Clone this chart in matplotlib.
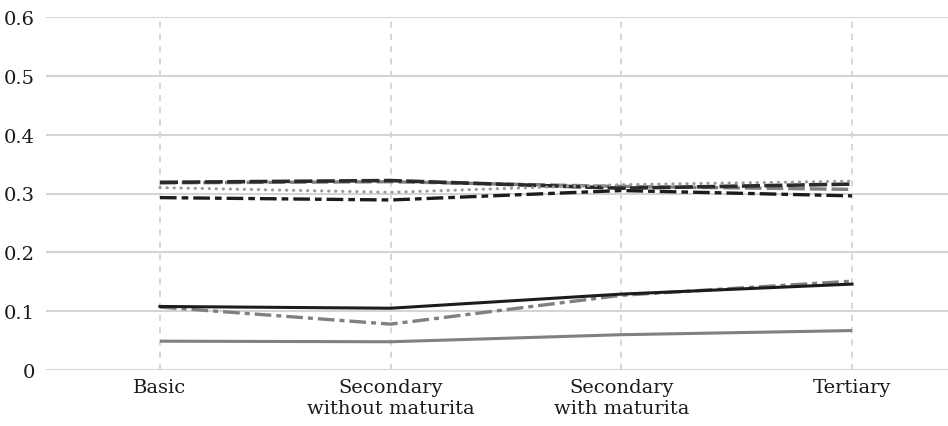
import matplotlib
matplotlib.use("Agg")
import matplotlib.pyplot as plt

categories = ["Basic", "Secondary\nwithout maturita", "Secondary\nwith maturita", "Tertiary"]
yticks = [0, 0.1, 0.2, 0.3, 0.4, 0.5, 0.6]
ytick_labels = ["0", "0.1", "0.2", "0.3", "0.4", "0.5", "0.6"]

black_dashed = [0.319, 0.322, 0.309, 0.316]
gray_dashed = [0.318, 0.320, 0.312, 0.307]
gray_dotted = [0.310, 0.302, 0.315, 0.321]
black_dashdot = [0.293, 0.289, 0.305, 0.296]
black_solid = [0.108, 0.105, 0.129, 0.146]
gray_dashdot = [0.107, 0.078, 0.127, 0.151]
gray_solid = [0.049, 0.048, 0.060, 0.067]

plt.rcParams['font.family'] = ['DejaVu Serif']

fig = plt.figure(figsize=(9.48, 4.27), dpi=100)
ax = fig.add_axes([46/948, 56/427, 902/948, 353/427])

x = list(range(len(categories)))
BLACK = "#1c1c1c"
GRAY = "#808080"
LGRAY = "#9a9a9a"

ax.plot(x, gray_solid, color=GRAY, lw=2.2, solid_capstyle='butt')
ax.plot(x, gray_dashdot, color=GRAY, lw=2.4, dashes=(5, 1.5, 1.5, 1.5))
ax.plot(x, black_solid, color=BLACK, lw=2.2)
ax.plot(x, black_dashdot, color=BLACK, lw=2.4, dashes=(5, 1.5, 2, 1.5))
ax.plot(x, gray_dashed, color=GRAY, lw=2.4, dashes=(5, 1.5))
ax.plot(x, black_dashed, color="#2a2a2a", lw=2.6, dashes=(5, 1.2))
ax.plot(x, gray_dotted, color=LGRAY, lw=2.2, dashes=(0.1, 2.2), dash_capstyle='round')

ax.set_xlim(-0.494, 3.416)
ax.set_ylim(0, 0.6)
ax.set_yticks(yticks)
ax.set_yticklabels(ytick_labels)
ax.set_xticks(x)
ax.set_xticklabels(categories, linespacing=1.2)

ax.grid(axis='y', color='#d4d4d4', lw=1.5, ls='-')
ax.grid(axis='x', color='#cccccc', lw=1.1, ls=(0, (4, 4)))
ax.set_axisbelow(True)
for s in ax.spines.values():
    s.set_visible(False)
ax.tick_params(axis='both', length=0, labelsize=14, colors='#1a1a1a')
ax.tick_params(axis='y', pad=8)
ax.tick_params(axis='x', pad=6)

fig.savefig("out.png", dpi=100)
